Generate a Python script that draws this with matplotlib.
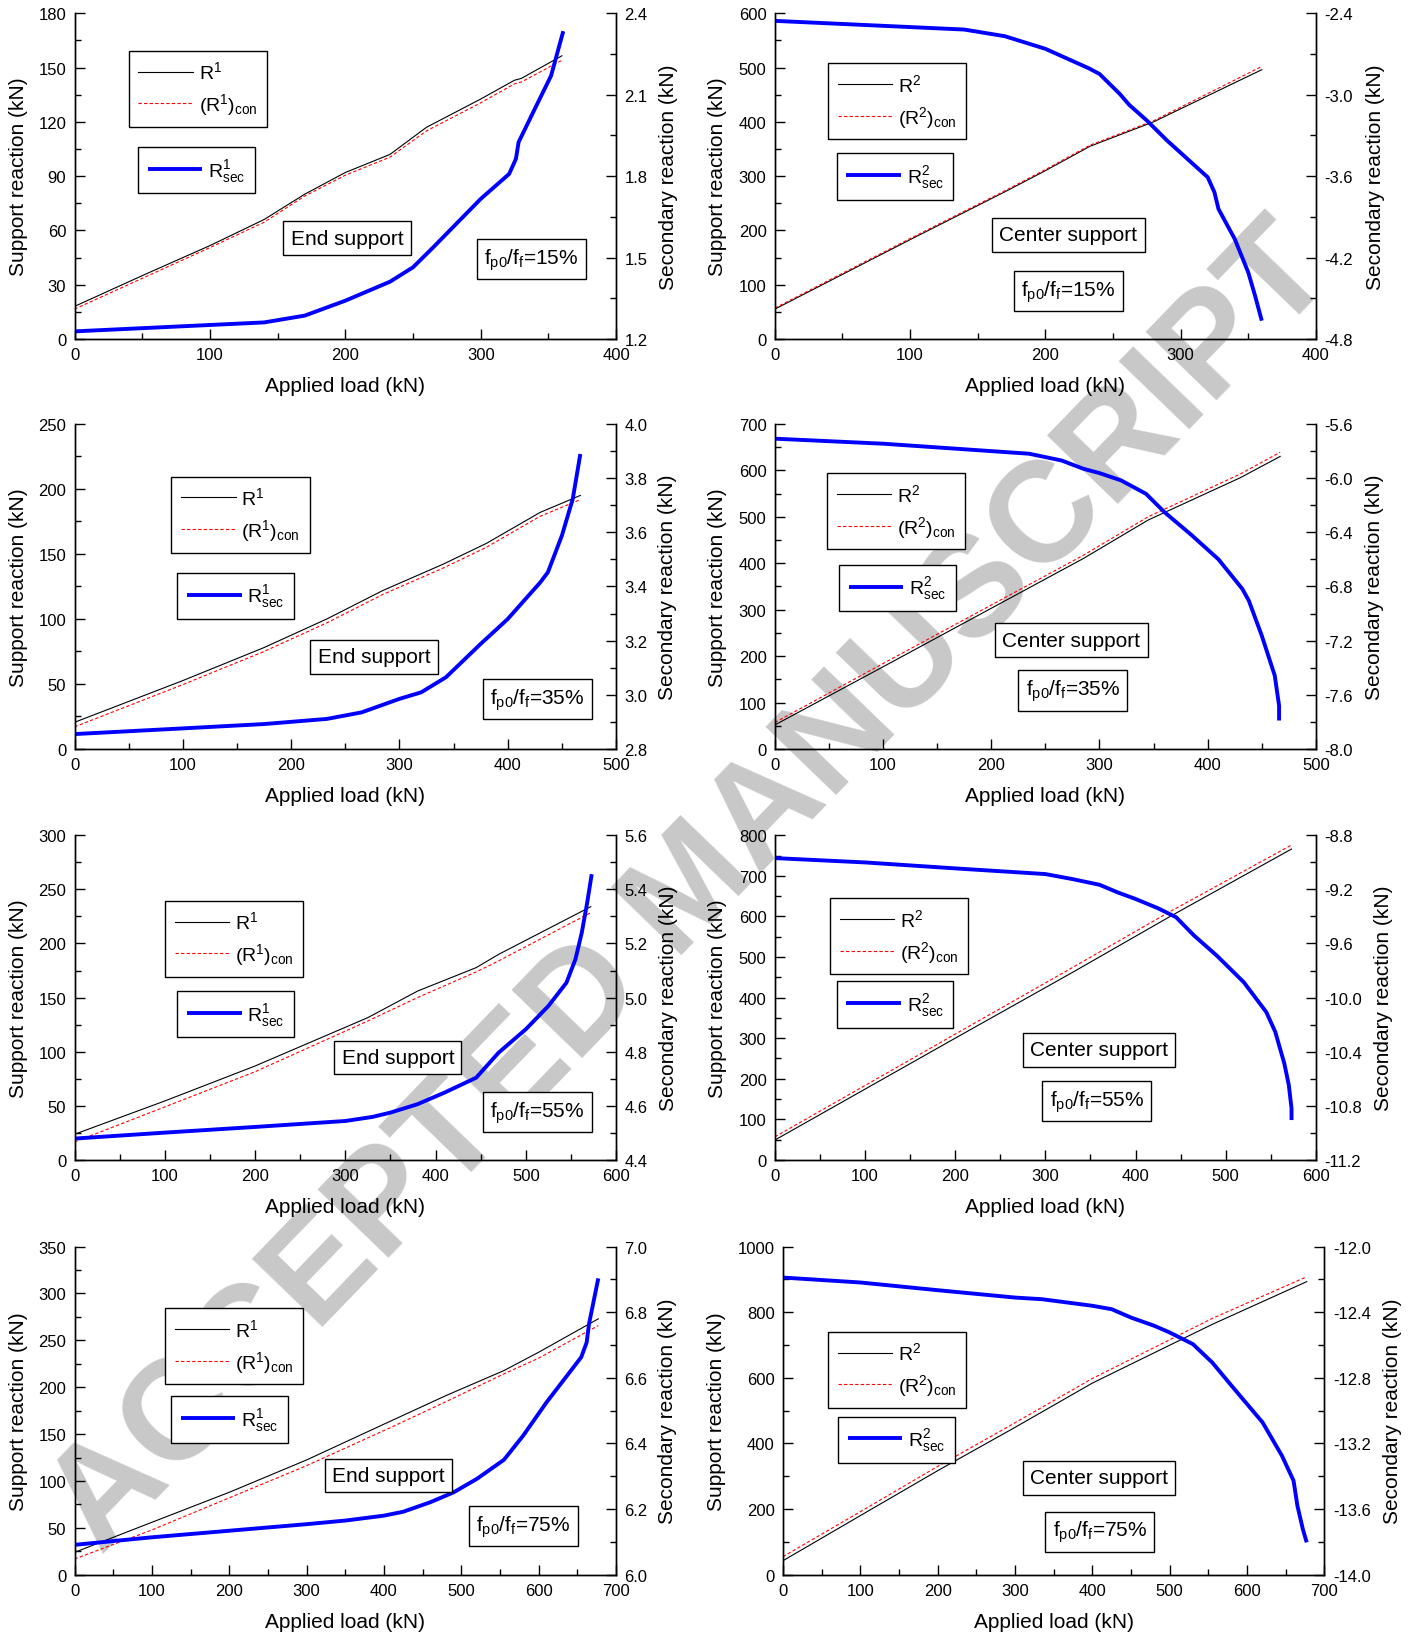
import matplotlib
matplotlib.use("Agg")
from matplotlib import pyplot as plt
from matplotlib.ticker import MultipleLocator, FormatStrFormatter

plt.rcParams['font.family'] = ['Liberation Sans', 'DejaVu Sans']
plt.rcParams['mathtext.fontset'] = 'custom'
plt.rcParams['mathtext.rm'] = 'Liberation Sans'
plt.rcParams['mathtext.it'] = 'Liberation Sans:italic'
plt.rcParams['mathtext.default'] = 'regular'

# ---- data ----
# fp0/ff = 15%, end support
load1 = [0, 50, 100, 140, 170, 200, 233, 260, 300, 325, 330, 360]
r1 = [18, 35, 51.6, 66, 80, 92, 102, 117, 132.6, 143, 144, 156.5]
r1_con = [16.5, 33.5, 50.5, 64.5, 79, 90.5, 100.5, 115, 130.5, 141, 142, 154]
sec_load1 = [0, 140, 170, 200, 233, 250, 265, 300, 321, 326, 328, 340, 352, 361]
sec1 = [1.228, 1.261, 1.286, 1.341, 1.411, 1.464, 1.538, 1.716, 1.808, 1.863, 1.925, 2.048, 2.17, 2.334]

# fp0/ff = 15%, center support
load2 = [0, 100, 170, 200, 233, 280, 320, 360]
r2 = [55, 183, 271, 310, 355, 400, 448, 496]
r2_con = [57, 185, 273, 312, 357, 402, 452, 502]
sec_load2 = [0, 140, 170, 200, 232, 240, 255, 262, 275, 290, 320, 325, 328, 340, 350, 355, 360]
sec2 = [-2.456, -2.52, -2.569, -2.662, -2.805, -2.847, -2.994, -3.075, -3.19, -3.338, -3.608,
        -3.719, -3.842, -4.063, -4.309, -4.48, -4.665]

# fp0/ff = 35%, end support
load3 = [0, 100, 175, 233, 285, 340, 380, 430, 467]
r3 = [20.5, 52.6, 78, 100, 122, 142, 158, 182, 195]
r3_con = [17, 49.5, 75, 97, 119, 139, 155, 179, 191.8]
sec_load3 = [0, 100, 175, 233, 265, 300, 320, 343, 375, 390, 400, 430, 437, 450, 460, 467]
sec3 = [2.855, 2.876, 2.892, 2.911, 2.935, 2.985, 3.009, 3.065, 3.188, 3.243, 3.28, 3.415,
        3.452, 3.588, 3.723, 3.889]

# fp0/ff = 35%, center support
load4 = [0, 100, 200, 285, 345, 430, 467]
r4 = [51.7, 177, 303, 410, 493, 584, 630]
r4_con = [57, 184, 310, 417, 500, 592, 639]
sec_load4 = [0, 100, 235, 265, 285, 300, 320, 343, 360, 385, 410, 432, 438, 450, 462, 466, 466]
sec4 = [-5.709, -5.746, -5.82, -5.87, -5.931, -5.963, -6.017, -6.116, -6.251, -6.42, -6.6,
        -6.818, -6.904, -7.163, -7.458, -7.68, -7.79]

# fp0/ff = 55%, end support
load5 = [0, 100, 200, 325, 380, 445, 470, 572]
r5 = [23.7, 54.5, 86.8, 131.5, 156, 177.7, 190, 234]
r5_con = [16.6, 49, 81.5, 128.4, 150, 173.7, 184, 228.5]
sec_load5 = [0, 100, 200, 300, 330, 350, 380, 410, 445, 470, 500, 525, 545, 555, 562, 568, 573]
sec5 = [4.479, 4.501, 4.522, 4.544, 4.559, 4.575, 4.606, 4.649, 4.704, 4.797, 4.883, 4.969,
        5.055, 5.142, 5.240, 5.351, 5.456]

# fp0/ff = 55%, center support
load6 = [0, 200, 330, 440, 573]
r6 = [49, 300, 462, 602, 766]
r6_con = [57, 310, 474, 614, 776]
sec_load6 = [0, 100, 200, 300, 330, 360, 380, 400, 425, 445, 465, 490, 520, 545, 555, 565, 570, 573, 573]
sec6 = [-8.969, -9.001, -9.045, -9.087, -9.124, -9.166, -9.222, -9.271, -9.34, -9.406, -9.542,
        -9.689, -9.886, -10.107, -10.254, -10.487, -10.647, -10.819, -10.905]

# fp0/ff = 75%, end support
load7 = [0, 100, 200, 300, 410, 480, 555, 600, 677]
r7 = [23.8, 55.9, 87.9, 122.4, 164.4, 191, 217.7, 237.3, 272.9]
r7_con = [16.7, 47.7, 82, 116.3, 157.5, 184.5, 214.2, 231, 265.7]
sec_load7 = [0, 100, 200, 300, 350, 400, 425, 460, 490, 520, 555, 580, 610, 640, 655, 662, 665, 677]
sec7 = [6.091, 6.114, 6.134, 6.154, 6.165, 6.18, 6.192, 6.221, 6.251, 6.292, 6.35, 6.424,
        6.525, 6.617, 6.663, 6.708, 6.764, 6.903]

# fp0/ff = 75%, center support
load8 = [0, 100, 200, 300, 400, 555, 677]
r8 = [42.6, 180, 317, 449, 584, 763, 893]
r8_con = [55, 192, 330, 463, 598, 781, 908]
sec_load8 = [0, 100, 200, 300, 335, 400, 425, 450, 480, 500, 530, 555, 580, 620, 645, 660, 665, 672, 677]
sec8 = [-12.189, -12.219, -12.266, -12.311, -12.321, -12.361, -12.382, -12.433, -12.483, -12.524,
        -12.595, -12.707, -12.849, -13.072, -13.275, -13.427, -13.58, -13.722, -13.803]

ratios = ["15%", "35%", "55%", "75%"]
support_names = ["End support", "Center support"]

# (load, R, R_con, sec_load, sec, xmax, xstep, ymax, ystep, ry0, ry1, rystep)
panels = [
    (load1, r1, r1_con, sec_load1, sec1, 400, 100, 180, 30, 1.2, 2.4, 0.3),
    (load2, r2, r2_con, sec_load2, sec2, 400, 100, 600, 100, -4.8, -2.4, 0.6),
    (load3, r3, r3_con, sec_load3, sec3, 500, 100, 250, 50, 2.8, 4.0, 0.2),
    (load4, r4, r4_con, sec_load4, sec4, 500, 100, 700, 100, -8.0, -5.6, 0.4),
    (load5, r5, r5_con, sec_load5, sec5, 600, 100, 300, 50, 4.4, 5.6, 0.2),
    (load6, r6, r6_con, sec_load6, sec6, 600, 100, 800, 100, -11.2, -8.8, 0.4),
    (load7, r7, r7_con, sec_load7, sec7, 700, 100, 350, 50, 6.0, 7.0, 0.2),
    (load8, r8, r8_con, sec_load8, sec8, 700, 100, 1000, 200, -14.0, -12.0, 0.4),
]

# layout: axes rect, legend anchors, text box centres, label coords
rects = [
    [0.0527, 0.7927, 0.383, 0.1986], [0.548, 0.7927, 0.3826, 0.1986],
    [0.0527, 0.5427, 0.383, 0.1982], [0.548, 0.5427, 0.3826, 0.1982],
    [0.0527, 0.2921, 0.383, 0.198], [0.548, 0.2921, 0.3826, 0.198],
    [0.0527, 0.0392, 0.383, 0.2001], [0.5537, 0.0392, 0.383, 0.2001],
]
leg1_pos = [(0.100, 0.885), (0.098, 0.846), (0.179, 0.838), (0.096, 0.848),
            (0.167, 0.798), (0.102, 0.806), (0.167, 0.812), (0.083, 0.740)]
leg2_pos = [(0.117, 0.589), (0.114, 0.570), (0.190, 0.542), (0.119, 0.567),
            (0.190, 0.520), (0.114, 0.550), (0.178, 0.544), (0.102, 0.482)]
name_pos = [(0.503, 0.31), (0.5425, 0.32), (0.553, 0.283), (0.548, 0.335),
            (0.597, 0.315), (0.599, 0.339), (0.580, 0.302), (0.584, 0.295)]
ratio_pos = [(0.843, 0.245), (0.542, 0.147), (0.855, 0.153), (0.551, 0.18),
             (0.855, 0.148), (0.595, 0.181), (0.829, 0.149), (0.585, 0.131)]
ylab_left = [-0.086, -0.088, -0.086, -0.088, -0.086, -0.088, -0.086, -0.105]
ylab_right = [1.080, 1.093, 1.078, 1.090, 1.080, 1.108, 1.078, 1.108]

TICK_FS = 12
LABEL_FS = 15
LEG_FS = 14
BOX_FS = 15


def style_axis(ax):
    ax.tick_params(which='both', direction='in', labelsize=TICK_FS, pad=6, width=1)
    ax.tick_params(which='major', length=7)
    ax.tick_params(which='minor', length=4)
    for s in ax.spines.values():
        s.set_linewidth(1.0)
    ax.spines['top'].set_visible(False)


fig = plt.figure(figsize=(14.14, 16.4), dpi=100)

fig.text(0.49, 0.457, "ACCEPTED MANUSCRIPT", rotation=46, rotation_mode='anchor',
         ha='center', va='center', fontsize=103, fontweight='bold', color='#c8c8c8', zorder=-10)

for i, p in enumerate(panels):
    load, r, r_con, sec_load, sec, xmax, xstep, ymax, ystep, ry0, ry1, rystep = p
    side = i % 2
    sup = side + 1
    ax = fig.add_axes(rects[i])
    ax.set_facecolor('none')
    ax2 = ax.twinx()
    ax.set_zorder(1)
    ax2.set_zorder(2)

    l_r, = ax.plot(load, r, color='black', lw=0.8)
    l_c, = ax.plot(load, r_con, color='red', lw=0.8, ls=(0, (3, 2)))
    l_s, = ax2.plot(sec_load, sec, color='#0000ff', lw=2.8, solid_capstyle='butt')

    ax.set_xlim(0, xmax)
    ax.set_ylim(0, ymax)
    ax2.set_ylim(ry0, ry1)
    ax.xaxis.set_major_locator(MultipleLocator(xstep))
    ax.xaxis.set_minor_locator(MultipleLocator(xstep / 2))
    ax.yaxis.set_major_locator(MultipleLocator(ystep))
    ax.yaxis.set_minor_locator(MultipleLocator(ystep / 2))
    ax2.yaxis.set_major_locator(MultipleLocator(rystep))
    ax2.yaxis.set_minor_locator(MultipleLocator(rystep / 2))
    ax2.yaxis.set_major_formatter(FormatStrFormatter('%.1f'))
    style_axis(ax)
    style_axis(ax2)

    ax.set_xlabel("Applied load (kN)", fontsize=LABEL_FS)
    ax.xaxis.set_label_coords(0.5, -0.114)
    ax.set_ylabel("Support reaction (kN)", fontsize=LABEL_FS)
    ax.yaxis.set_label_coords(ylab_left[i], 0.5)
    ax2.set_ylabel("Secondary reaction (kN)", fontsize=LABEL_FS)
    ax2.yaxis.set_label_coords(ylab_right[i], 0.5)

    leg_kw = dict(loc='upper left', fontsize=LEG_FS, frameon=True, fancybox=False,
                  borderaxespad=0, handlelength=2.8, handletextpad=0.3,
                  borderpad=0.5, labelspacing=0.45)
    leg1 = ax2.legend([l_r, l_c], [f"$R^{sup}$", f"$(R^{sup})_{{con}}$"],
                      bbox_to_anchor=leg1_pos[i], **leg_kw)
    leg2 = ax2.legend([l_s], [f"$R^{sup}_{{sec}}$"], bbox_to_anchor=leg2_pos[i], **leg_kw)
    ax2.add_artist(leg1)
    for lg in (leg1, leg2):
        fr = lg.get_frame()
        fr.set_edgecolor('black')
        fr.set_linewidth(1.0)
        fr.set_alpha(1)

    box = dict(boxstyle='square,pad=0.35', fc='white', ec='black', lw=1.0)
    ax2.text(name_pos[i][0], name_pos[i][1], support_names[side], transform=ax2.transAxes,
             ha='center', va='center', fontsize=BOX_FS, bbox=box)
    ax2.text(ratio_pos[i][0], ratio_pos[i][1], "$f_{p0}/f_f$=" + ratios[i // 2],
             transform=ax2.transAxes, ha='center', va='center', fontsize=BOX_FS, bbox=box)

fig.savefig("out.png", dpi=100)
